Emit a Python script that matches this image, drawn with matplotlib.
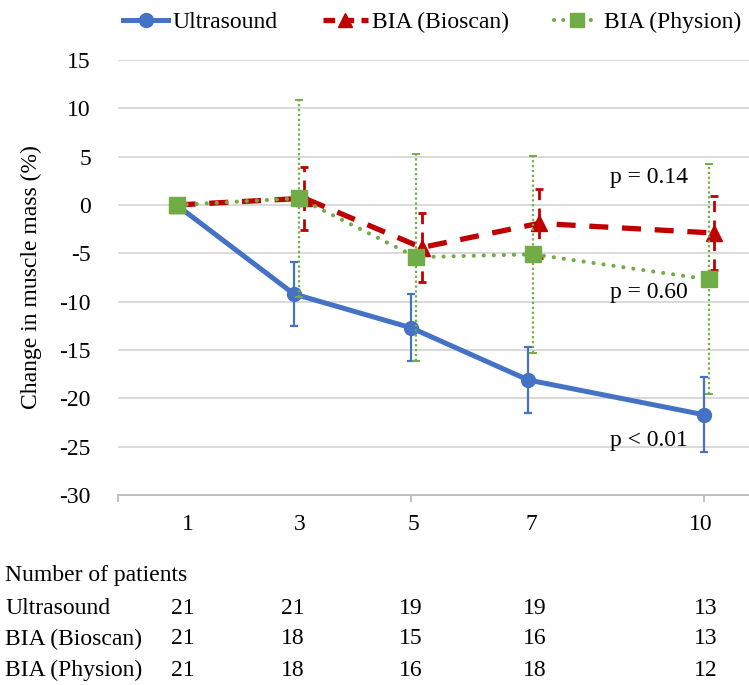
import matplotlib
matplotlib.use("Agg")
import matplotlib.pyplot as plt
from matplotlib.lines import Line2D
import numpy as np

plt.rcParams['font.family'] = ['Liberation Serif', 'DejaVu Serif']

# ---- data ----
days = [1, 3, 5, 7, 10]
day_labels = ["1", "3", "5", "7", "10"]

us_x = [1, 3, 5, 7, 10]
us_mean = [0, -9.2, -12.7, -18.1, -21.7]
us_sd = [0, 3.3, 3.45, 3.4, 3.9]

bio_x = [1, 3.18, 5.18, 7.18, 10.17]
bio_mean = [0, 0.7, -4.4, -1.9, -2.9]
bio_sd = [0, 3.25, 3.6, 3.6, 3.8]

phy_x = [1, 3.09, 5.09, 7.08, 10.08]
phy_mean = [0, 0.7, -5.4, -5.1, -7.7]
phy_sd = [0, 10.2, 10.7, 10.2, 11.9]

series_names = ["Ultrasound", "BIA (Bioscan)", "BIA (Physion)"]
n_us = [21, 21, 19, 19, 13]
n_bio = [21, 18, 15, 16, 13]
n_phy = [21, 18, 16, 18, 12]

p_texts = ["p = 0.14", "p = 0.60", "p < 0.01"]
p_y = [2.8, -9.1, -24.4]

BLUE = "#4472C4"
RED = "#C00000"
GREEN = "#70AD47"
FS = 17

W, H = 749, 685
fig = plt.figure(figsize=(W / 100, H / 100), dpi=100)
ax = fig.add_axes([118 / W, 1 - 495 / H, (749 - 118) / W, (495 - 60) / H])

# Ultrasound
l, caps, bars = ax.errorbar(us_x, us_mean, yerr=us_sd, color=BLUE, lw=3.6,
                            marker='o', ms=10, capsize=2.8, elinewidth=1.6,
                            capthick=1.6, ecolor=BLUE, zorder=3)

# Bioscan
l2, caps2, bars2 = ax.errorbar(bio_x, bio_mean, yerr=bio_sd, color=RED, lw=3.8,
                               marker='^', ms=12, capsize=3.0, elinewidth=2.0,
                               capthick=2.0, ecolor=RED, zorder=4)
l2.set_dashes([3.6, 2.6])
bars2[0].set_linestyle((0, (4, 3)))

# Physion
l3, caps3, bars3 = ax.errorbar(phy_x, phy_mean, yerr=phy_sd, color=GREEN, lw=3.0,
                               marker='s', ms=11, capsize=2.6, elinewidth=1.6,
                               capthick=1.4, ecolor=GREEN, zorder=5)
l3.set_dashes([0.01, 2.4])
l3.set_dash_capstyle('round')
bars3[0].set_linestyle((0, (1, 1.2)))

ax.set_ylim(-30, 15)
ax.set_xlim(0, (749 - 118) / 58.6)
ax.set_yticks(np.arange(-30, 16, 5))
ax.set_yticklabels([str(v) for v in range(-30, 16, 5)], fontsize=FS)
ax.yaxis.grid(True, color="#D9D9D9", lw=1.4)
ax.set_axisbelow(True)
for s in ['top', 'right', 'left']:
    ax.spines[s].set_visible(False)
ax.spines['bottom'].set_color("#BFBFBF")
ax.spines['bottom'].set_linewidth(1.4)
ax.tick_params(axis='y', length=0, pad=19.5)

label_pos = [1.19, 3.1, 5.05, 7.05, 9.95]
ax.set_xticks(label_pos)
ax.set_xticklabels(day_labels, fontsize=FS)
ax.set_xticks([0, 5, 10], minor=True)
ax.tick_params(axis='x', which='major', length=0, pad=14)
ax.tick_params(axis='x', which='minor', length=5, color="#BFBFBF", width=1.4)

ax.set_ylabel("Change in muscle mass (%)", fontsize=FS, labelpad=12.5)

for t, yv in zip(p_texts, p_y):
    ax.text(8.4, yv, t, fontsize=FS, va='center', ha='left')

handles = [
    Line2D([], [], color=BLUE, lw=3.6, marker='o', ms=10),
    Line2D([], [], color=RED, lw=3.8, marker='^', ms=10, dashes=[2.2, 1.4]),
    Line2D([], [], color=GREEN, lw=3.0, marker='s', ms=10, dashes=[0.01, 2.2],
           dash_capstyle='round'),
]
leg = fig.legend(handles, series_names, loc='center',
                 bbox_to_anchor=(432 / W, 1 - 22 / H), ncol=3,
                 frameon=False, fontsize=FS, handlelength=1.9,
                 handletextpad=0.2, columnspacing=1.9)

# Number of patients table
row_y = [576, 608, 639, 670]
col_x = [183, 293, 411, 535, 706]
fig.text(5 / W, 1 - row_y[0] / H, "Number of patients", fontsize=FS,
         ha='left', va='center')
for name, counts, ry in zip(series_names, [n_us, n_bio, n_phy], row_y[1:]):
    fig.text(5 / W, 1 - ry / H, name, fontsize=FS, ha='left', va='center')
    for c, cx in zip(counts, col_x):
        fig.text(cx / W, 1 - ry / H, str(c), fontsize=FS, ha='center', va='center')

fig.savefig("out.png", dpi=100)
